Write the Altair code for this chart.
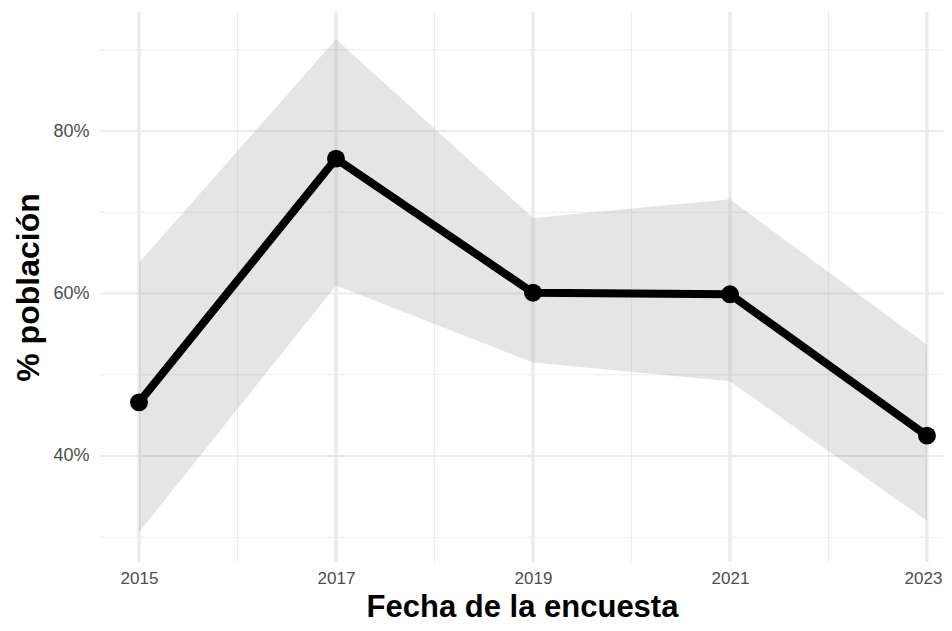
import altair as alt
import pandas as pd

years = [2015, 2017, 2019, 2021, 2023]
share = [0.466, 0.766, 0.601, 0.599, 0.425]
upper = [0.638, 0.913, 0.693, 0.716, 0.537]
lower = [0.306, 0.610, 0.515, 0.492, 0.320]

x_major = [2015, 2017, 2019, 2021, 2023]
x_minor = [2016, 2018, 2020, 2022]
y_major = [0.4, 0.6, 0.8]
y_minor = [0.3, 0.5, 0.7, 0.9]

df = pd.DataFrame({"year": years, "share": share, "upper": upper, "lower": lower})

xs = alt.Scale(domain=[2014.604, 2023.173], nice=False, zero=False)
ys = alt.Scale(domain=[0.2695, 0.9465], nice=False, zero=False)
GRID = "#ebebeb"
FONT = "Liberation Sans"

xaxis = alt.Axis(values=x_major, format="d", grid=False, domain=False, ticks=False,
                 labelFont=FONT, labelFontSize=17, labelColor="#4d4d4d",
                 labelPadding=8, labelOffset=alt.ExprRef("datum.value == 2023 ? -4 : 0"),
                 title="Fecha de la encuesta", titleFont=FONT,
                 titleFontSize=31, titleFontWeight="bold", titleColor="#000000", titlePadding=6)
yaxis = alt.Axis(values=y_major, format=".0%", grid=False, domain=False, ticks=False,
                 labelFont=FONT, labelFontSize=18, labelColor="#4d4d4d",
                 labelPadding=11, title="% población", titleFont=FONT,
                 titleFontSize=32, titleFontWeight="bold", titleColor="#000000", titlePadding=7)

vmaj = alt.Chart(pd.DataFrame({"v": x_major})).mark_rule(color=GRID, strokeWidth=3.5).encode(
    x=alt.X("v:Q", scale=xs, axis=xaxis))
vmin = alt.Chart(pd.DataFrame({"v": x_minor})).mark_rule(color=GRID, strokeWidth=1.2).encode(
    x=alt.X("v:Q", scale=xs, axis=xaxis))
hmaj = alt.Chart(pd.DataFrame({"v": y_major})).mark_rule(color=GRID, strokeWidth=1.8).encode(
    y=alt.Y("v:Q", scale=ys, axis=yaxis))
hmin = alt.Chart(pd.DataFrame({"v": y_minor})).mark_rule(color=GRID, strokeWidth=1.1).encode(
    y=alt.Y("v:Q", scale=ys, axis=yaxis))

band = alt.Chart(df).mark_area(color="#aaaaaa", opacity=0.3).encode(
    x=alt.X("year:Q", scale=xs, axis=xaxis),
    y=alt.Y("lower:Q", scale=ys, axis=yaxis),
    y2="upper:Q",
)
line = alt.Chart(df).mark_line(color="#000000", strokeWidth=8).encode(
    x=alt.X("year:Q", scale=xs, axis=xaxis),
    y=alt.Y("share:Q", scale=ys, axis=yaxis),
)
pts = alt.Chart(df).mark_point(filled=True, color="#000000", size=320, opacity=1).encode(
    x=alt.X("year:Q", scale=xs, axis=xaxis),
    y=alt.Y("share:Q", scale=ys, axis=yaxis),
)

chart = alt.layer(vmin, vmaj, hmin, hmaj, band, line, pts).properties(
    width=844, height=550,
    autosize="none",
    padding={"left": 92, "top": 4, "right": 0, "bottom": 61},
).configure_view(stroke=None)

chart.save("out.html", embed_options={"renderer": "svg", "actions": False})
